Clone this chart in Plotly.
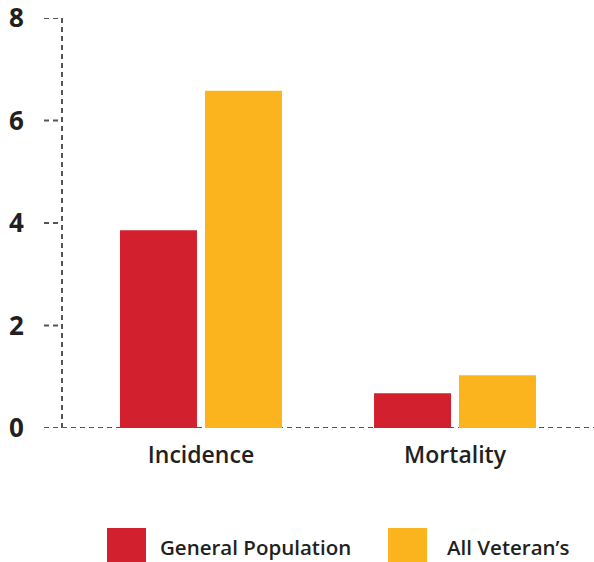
import plotly.graph_objects as go

categories = ["Incidence", "Mortality"]
general_population = [3.86, 0.68]
all_veterans = [6.58, 1.03]
series_names = ["General Population", "All Veteran’s"]
y_ticks = [0, 2, 4, 6, 8]

RED = "#D3202F"
YELLOW = "#FBB41D"
TEXT = "#231F20"
DASH = "#555555"
FONT = "Open Sans"

fig = go.Figure()
fig.add_trace(go.Bar(x=categories, y=general_population, name=series_names[0],
                     marker=dict(color=RED, line=dict(width=0)), showlegend=False))
fig.add_trace(go.Bar(x=categories, y=all_veterans, name=series_names[1],
                     marker=dict(color=YELLOW, line=dict(width=0)), showlegend=False))

W, H = 594, 562
ml, mr, mt, mb = 62, 0, 18, 134
pw = W - ml - mr

fig.update_layout(
    width=W, height=H,
    margin=dict(l=ml, r=mr, t=mt, b=mb, pad=0, autoexpand=False),
    paper_bgcolor="white", plot_bgcolor="white",
    barmode="group", bargap=0.331, bargroupgap=0.094,
    font=dict(family=FONT, color=TEXT),
    xaxis=dict(range=[-0.547, 1.547], showline=False, showgrid=False, zeroline=False,
               automargin=False,
               ticks="outside", ticklen=6, tickcolor="rgba(0,0,0,0)",
               tickfont=dict(size=23, family=FONT, color=TEXT, weight=600)),
    yaxis=dict(range=[0, 8.001], tickvals=y_ticks, showline=False, showgrid=False, zeroline=False,
               automargin=False, ticklabeloverflow="allow",
               ticks="outside", ticklen=32, tickcolor="rgba(0,0,0,0)",
               tickfont=dict(size=26, family=FONT, color=TEXT, weight=700)),
)

dash = "5px,4px"
# dashed y axis line
fig.add_shape(type="line", xref="paper", yref="y", x0=0, x1=0, y0=0, y1=max(y_ticks),
              line=dict(color=DASH, width=2, dash=dash))
# dashed tick marks
tick_x0 = -18 / pw
for v in y_ticks:
    if v == 0:
        continue
    fig.add_shape(type="line", xref="paper", yref="y", x0=tick_x0, x1=0, y0=v, y1=v,
                  line=dict(color=DASH, width=2, dash=dash))
# dashed x axis line
fig.add_shape(type="line", xref="paper", yref="y", x0=tick_x0, x1=1, y0=0, y1=0,
              line=dict(color=DASH, width=2, dash=dash), layer="below")

# custom legend
def px_x(px):
    return (px - ml) / pw

def px_y(py):
    return (H - mb - py) / (H - mt - mb)

legend_items = [(series_names[0], RED, 107, 158), (series_names[1], YELLOW, 388, 445)]
for name, col, sx, tx in legend_items:
    fig.add_shape(type="rect", xref="paper", yref="paper",
                  x0=px_x(sx), x1=px_x(sx + 39), y0=px_y(562), y1=px_y(528),
                  fillcolor=col, line=dict(width=0))
    fig.add_annotation(xref="paper", yref="paper", x=px_x(tx), y=px_y(547),
                       xanchor="left", yanchor="middle", showarrow=False, text=name,
                       font=dict(size=20.5, family=FONT, color=TEXT, weight=600))

fig.write_html("out.html", config={"displayModeBar": False},
               post_script="document.body.style.margin='0';document.body.style.padding='0';")
